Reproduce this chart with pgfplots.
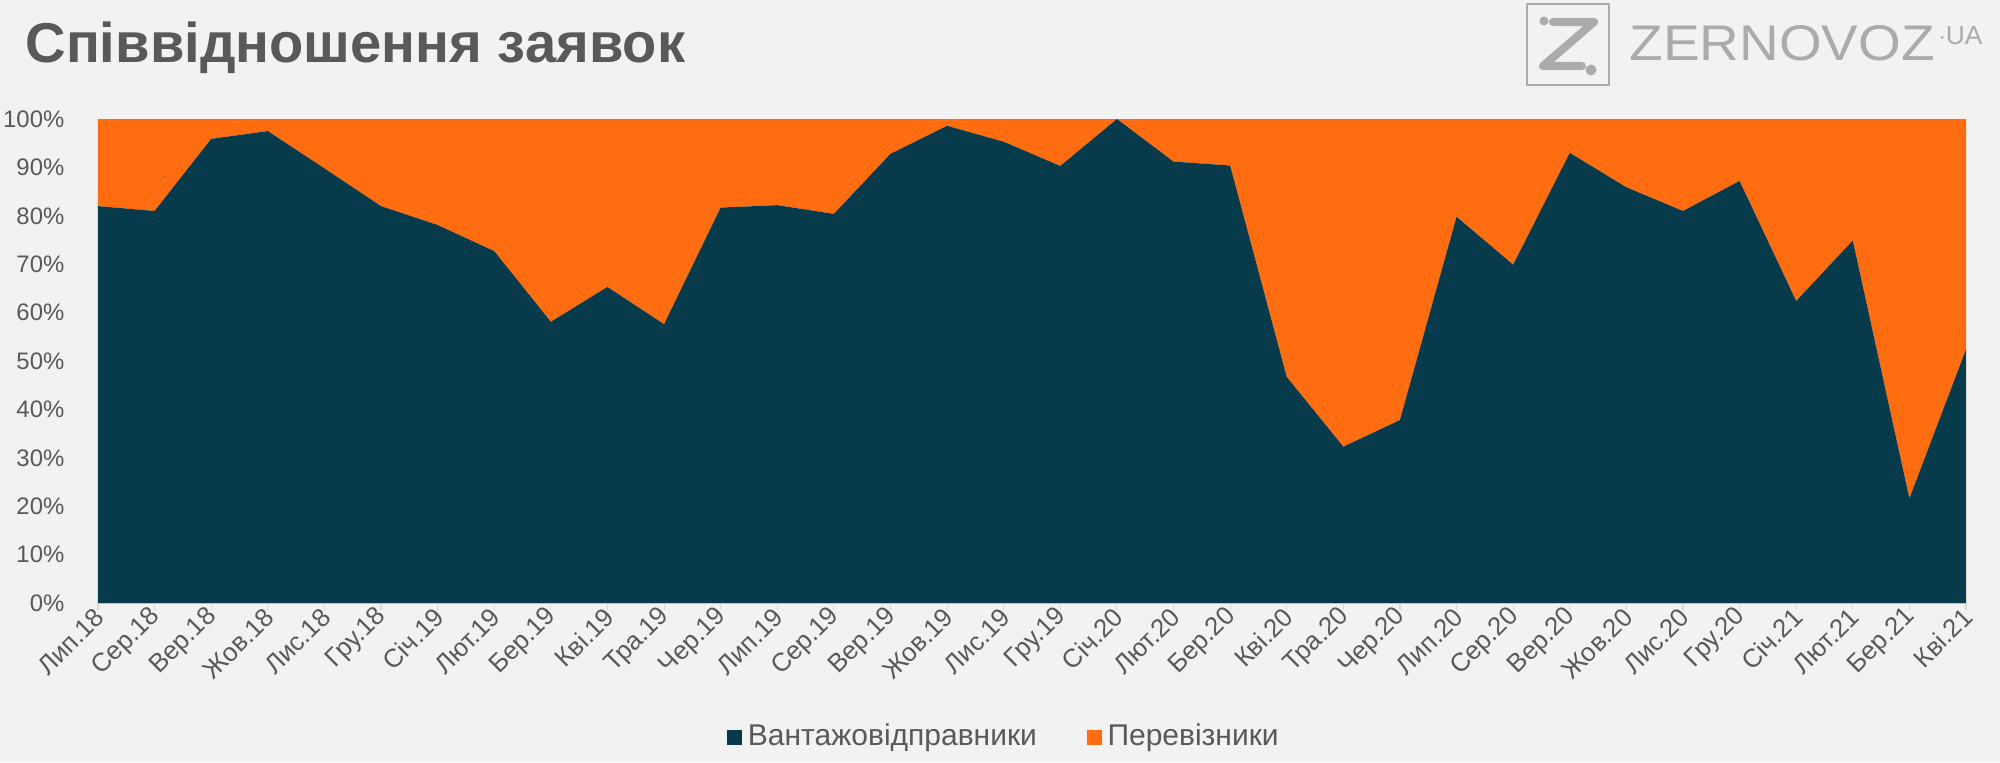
\documentclass[border=0pt]{standalone}
\usepackage{fontspec}
\setmainfont{Liberation Sans}
\usepackage{graphicx}
\usepackage{pgfplots}
\usepackage{pgfplotstable}
\pgfplotsset{compat=1.18}
\definecolor{bg}{HTML}{F2F2F2}
\definecolor{dark}{HTML}{073B4C}
\definecolor{orng}{HTML}{FF6D10}
\definecolor{txt}{HTML}{595959}
\definecolor{axg}{HTML}{D9D9D9}
\definecolor{logo}{HTML}{ABABAB}

\pgfplotstableread{
i  v     o
0  82.0  18.0
1  81.0  19.0
2  95.9  4.1
3  97.5  2.5
4  89.8  10.2
5  82.0  18.0
6  78.1  21.9
7  72.7  27.3
8  58.1  41.9
9  65.3  34.7
10 57.6  42.4
11 81.7  18.3
12 82.2  17.8
13 80.4  19.6
14 92.8  7.2
15 98.6  1.4
16 95.3  4.7
17 90.3  9.7
18 100.0 0.0
19 91.2  8.8
20 90.4  9.6
21 46.7  53.3
22 32.3  67.7
23 37.8  62.2
24 79.8  20.2
25 69.9  30.1
26 93.0  7.0
27 85.9  14.1
28 81.0  19.0
29 87.2  12.8
30 62.4  37.6
31 74.9  25.1
32 21.6  78.4
33 52.4  47.6
}\datatable

\begin{document}
\begin{tikzpicture}
\path[use as bounding box, fill=bg] (0,0) rectangle (720pt,274.32pt);
\node[anchor=base west, inner sep=0, text=txt, font=\fontsize{20.2}{24}\selectfont\bfseries] at (9pt,252pt) {Співвідношення заявок};
% logo
\begin{scope}[shift={(0,274.32pt)}, x=0.36pt, y=-0.36pt]
  \draw[logo, line width=0.6pt] (1527,4) rectangle (1609,85);
  \draw[logo, line width=2.9pt, line cap=round, line join=round] (1553,22) -- (1594,22) -- (1543,66) -- (1582,66);
  \fill[logo] (1544,21) circle (4.5);
  \fill[logo] (1591,70) circle (5.5);
  \node[anchor=south west, inner sep=0, text=logo] at (1629,62) {\resizebox{305\dimexpr0.36pt\relax}{35\dimexpr0.36pt\relax}{ZERNOVOZ}};
  \node[anchor=south west, inner sep=0, text=logo] at (1938,45) {\resizebox{44\dimexpr0.36pt\relax}{18\dimexpr0.36pt\relax}{$\cdot$UA}};
\end{scope}
\begin{axis}[
  at={(35.28pt,57.24pt)}, anchor=south west,
  scale only axis, width=672.48pt, height=174.24pt,
  xmin=0, xmax=33, ymin=0, ymax=100,
  stack plots=y,
  axis x line*=bottom, axis y line*=left,
  y axis line style={draw=none},
  x axis line style={axg, line width=0.7pt, -},
  xtick={0,...,33},
  xticklabels={Лип.18,Сер.18,Вер.18,Жов.18,Лис.18,Гру.18,Січ.19,Лют.19,Бер.19,Кві.19,Тра.19,Чер.19,Лип.19,Сер.19,Вер.19,Жов.19,Лис.19,Гру.19,Січ.20,Лют.20,Бер.20,Кві.20,Тра.20,Чер.20,Лип.20,Сер.20,Вер.20,Жов.20,Лис.20,Гру.20,Січ.21,Лют.21,Бер.21,Кві.21},
  tick align=outside,
  major tick length=2.6pt,
  xtick style={axg, line width=0.4pt},
  ytick={0,10,...,100},
  yticklabels={0\%,10\%,20\%,30\%,40\%,50\%,60\%,70\%,80\%,90\%,100\%},
  ytick style={draw=none},
  /pgf/number format/assume math mode=true,
  tick label style={text=txt},
  yticklabel style={font=\fontsize{8.6}{10}\selectfont, xshift=-6pt},
  xticklabel style={font=\fontsize{9.3}{11}\selectfont, rotate=45, anchor=east, inner sep=1pt, xshift=1pt, yshift=-1pt},
  legend style={at={(0.486,-0.277)}, anchor=center, legend columns=2, draw=none, fill=none,
    font=\fontsize{10.8}{12}\selectfont, text=txt,
    /tikz/every even column/.append style={column sep=16pt}},
  legend image code/.code={\fill[#1] (0pt,-2.7pt) rectangle (5.4pt,2.7pt);},
]
\addplot[fill=dark, draw=none, mark=none] table[x=i, y=v] {\datatable} \closedcycle;
\addlegendentry{Вантажовідправники}
\addplot[fill=orng, draw=none, mark=none] table[x=i, y=o] {\datatable} \closedcycle;
\addlegendentry{Перевізники}
\draw[axg, line width=0.7pt] (rel axis cs:0,1) -- (rel axis cs:1,1);
\end{axis}
\end{tikzpicture}
\end{document}
